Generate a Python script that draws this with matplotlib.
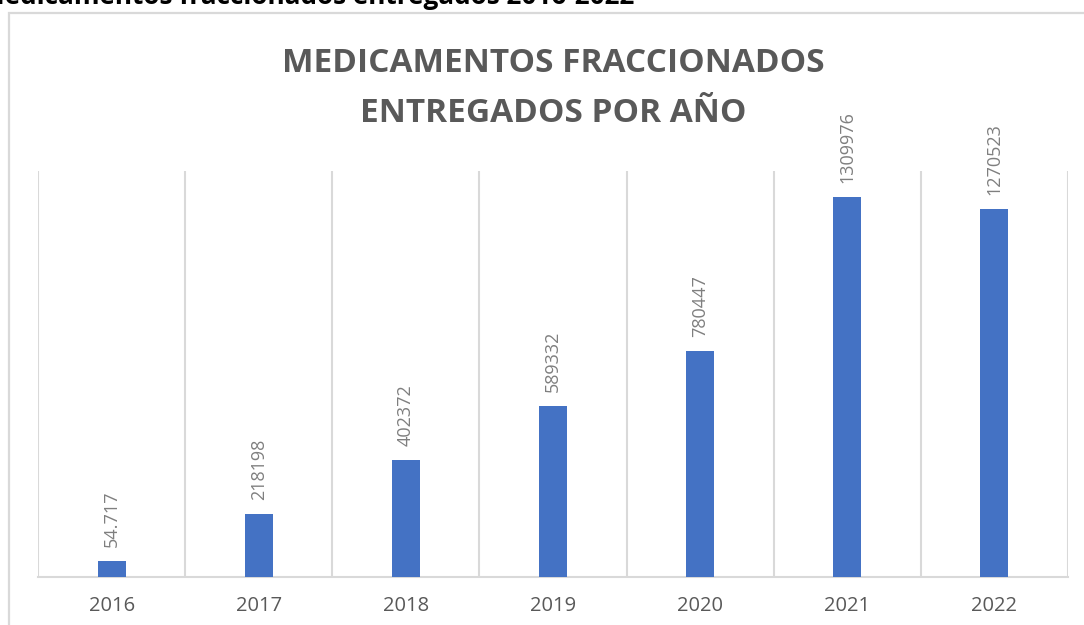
import matplotlib.pyplot as plt
from matplotlib.patches import Rectangle

years = ['2016', '2017', '2018', '2019', '2020', '2021', '2022']
entregados = [54717, 218198, 402372, 589332, 780447, 1309976, 1270523]
# only the first year's label was typed with a thousands separator
con_separador = [True, False, False, False, False, False, False]

BLUE = '#4472C4'
GREY_TEXT = '#595959'
GREY_LINE = '#d9d9d9'

plt.rcParams['font.family'] = ['Open Sans', 'DejaVu Sans']

fig = plt.figure(figsize=(10.84, 6.25), dpi=100)

# outer chart frame (runs past the right and bottom edges)
fig.patches.append(Rectangle((9 / 1084, -0.05), 1.2, 1 - 13 / 625 + 0.05,
                             transform=fig.transFigure, fill=False,
                             edgecolor=GREY_LINE, lw=1.6, zorder=0))

# heading above the frame, mostly cut off at the top
fig.text(-0.018, 1 - 4 / 625, 'Medicamentos fraccionados entregados 2016-2022',
         ha='left', va='baseline', fontsize=18.8, fontweight='bold', color='black')

ax = fig.add_axes([38 / 1084, 1 - 577 / 625, (1068 - 38) / 1084, (577 - 171) / 625])
x = range(len(years))
ax.bar(x, entregados, width=0.19, color=BLUE, zorder=3)

for xi, v, sep in zip(x, entregados, con_separador):
    txt = f'{v:,}'.replace(',', '.') if sep else str(v)
    ax.annotate(txt, (xi, v), xytext=(0, 10), textcoords='offset points',
                rotation=90, ha='center', va='bottom', fontsize=13,
                color='#7f7f7f', annotation_clip=False)

ax.set_xlim(-0.5, len(years) - 0.5)
ax.set_ylim(0, 1400000)
for b in [i - 0.5 for i in range(len(years) + 1)]:
    ax.axvline(b, color=GREY_LINE, lw=1.5, zorder=1)

ax.set_xticks(list(x))
ax.set_xticklabels(years, fontsize=14.5, color=GREY_TEXT)
ax.tick_params(axis='x', length=0, pad=14)
ax.set_yticks([])
for side in ['top', 'left', 'right']:
    ax.spines[side].set_visible(False)
ax.spines['bottom'].set_color(GREY_LINE)
ax.spines['bottom'].set_linewidth(1.5)

fig.text(553 / 1084, 1 - 63 / 625, 'MEDICAMENTOS FRACCIONADOS',
         ha='center', va='center', fontsize=24, fontweight='bold', color=GREY_TEXT)
fig.text(553 / 1084, 1 - 113 / 625, 'ENTREGADOS POR AÑO',
         ha='center', va='center', fontsize=24, fontweight='bold', color=GREY_TEXT)

fig.savefig('out.png', dpi=100)
